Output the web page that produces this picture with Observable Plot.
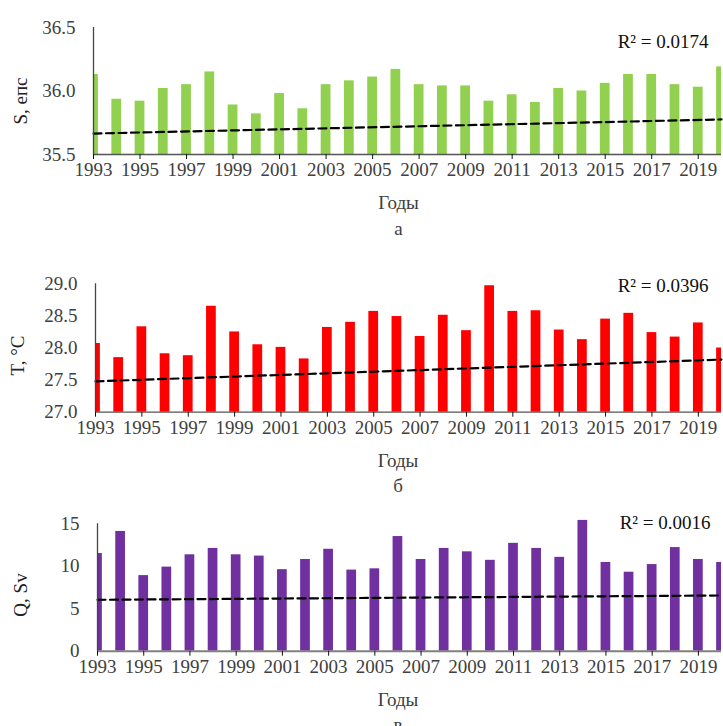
<!DOCTYPE html>
<html>
<head>
<meta charset="utf-8">
<script src="https://cdn.jsdelivr.net/npm/d3@7"></script>
<script src="https://cdn.jsdelivr.net/npm/@observablehq/plot@0.6"></script>
<style>
  body { margin: 0; background: #fff; }
  #chart { width: 723px; }
  #chart svg { display: block; overflow: visible; }
</style>
</head>
<body>
<div id="chart"></div>
<script>
// Years of observation
const years = [1993, 1994, 1995, 1996, 1997, 1998, 1999, 2000, 2001, 2002,
               2003, 2004, 2005, 2006, 2007, 2008, 2009, 2010, 2011, 2012,
               2013, 2014, 2015, 2016, 2017, 2018, 2019, 2020];
const yearTicks = [1993, 1995, 1997, 1999, 2001, 2003, 2005, 2007, 2009,
                   2011, 2013, 2015, 2017, 2019];

// а — salinity, psu
const salinity = [36.13, 35.935, 35.92, 36.02, 36.05, 36.15, 35.89, 35.82, 35.98, 35.86,
                  36.05, 36.08, 36.11, 36.17, 36.05, 36.04, 36.04, 35.92, 35.97, 35.91,
                  36.02, 36.00, 36.06, 36.13, 36.13, 36.05, 36.03, 36.19];
const salinityTrend = [35.665, 35.776];
const salinityTicks = [35.5, 36.0, 36.5];

// б — temperature, °C
const temperature = [28.07, 27.85, 28.33, 27.91, 27.88, 28.65, 28.25, 28.05, 28.01, 27.83,
                     28.32, 28.40, 28.57, 28.49, 28.18, 28.51, 28.27, 28.97, 28.57, 28.58,
                     28.28, 28.13, 28.45, 28.54, 28.24, 28.17, 28.39, 28.00];
const temperatureTrend = [27.48, 27.82];
const temperatureTicks = [27.0, 27.5, 28.0, 28.5, 29.0];

// в — transport, Sv
const transport = [11.5, 14.1, 8.9, 9.9, 11.35, 12.1, 11.35, 11.2, 9.6, 10.8,
                   12.0, 9.55, 9.7, 13.5, 10.8, 12.1, 11.7, 10.7, 12.7, 12.1,
                   11.05, 15.4, 10.45, 9.3, 10.2, 12.2, 10.8, 10.45];
const transportTrend = [6.05, 6.56];
const transportTicks = [0, 5, 10, 15];

const yTitles = ["S, епс", "T, °C", "Q, Sv"];
const r2Labels = ["R² = 0.0174", "R² = 0.0396", "R² = 0.0016"];
const panelLetters = ["а", "б", "в"];
const xTitle = "Годы";

const font = "'Liberation Serif', 'Times New Roman', serif";
const halfBar = 0.21;

function panel({values, trend, ticks, format, color, yTitle, r2, letter, layout}) {
  const data = years.map((year, i) => ({year, v: values[i]}));
  const trendData = [
    {year: years[0], v: trend[0]},
    {year: years[years.length - 1], v: trend[1]}
  ];
  const base = ticks[0];
  const top = ticks[ticks.length - 1];
  return Plot.plot({
    width: 723,
    height: layout.height,
    marginLeft: layout.left,
    marginRight: 2,
    marginTop: layout.top,
    marginBottom: layout.bottom,
    style: {fontFamily: font, fontSize: "19px", background: "#fff", color: "#222"},
    x: {domain: [years[0], years[years.length - 1]], clamp: true},
    y: {domain: [base, top]},
    marks: [
      Plot.rectY(data, {
        x1: d => d.year - halfBar,
        x2: d => d.year + halfBar,
        y1: base,
        y2: "v",
        fill: color
      }),
      Plot.line(trendData, {
        x: "year", y: "v",
        stroke: "#000", strokeWidth: 2.2, strokeDasharray: "8,4.5"
      }),
      Plot.ruleY([base], {stroke: layout.baseColor, strokeWidth: layout.baseWidth}),
      Plot.ruleX([years[0]], {stroke: "#444", strokeWidth: 1.3}),
      Plot.axisY({
        ticks, tickFormat: format, tickSize: 0, tickPadding: 18,
        fill: "#404040", fontSize: 19, label: null
      }),
      Plot.axisX({
        ticks: yearTicks, tickFormat: "d", tickSize: 5, tickPadding: 3,
        stroke: "#111", fill: "#404040", fontSize: 19, label: null
      }),
      Plot.text([yTitle], {
        text: d => d, frameAnchor: "left", rotate: -90,
        textAnchor: "middle", lineAnchor: "middle",
        dx: layout.titleDx, dy: layout.titleDy,
        fontSize: 19, fill: "#222"
      }),
      Plot.text([r2], {
        text: d => d, frameAnchor: "top-right",
        textAnchor: "end", lineAnchor: "middle",
        dx: layout.r2Dx, dy: layout.r2Dy,
        fontSize: 19, fill: "#111"
      }),
      Plot.text([xTitle], {
        text: d => d, frameAnchor: "bottom",
        textAnchor: "middle", lineAnchor: "middle",
        dx: layout.xTitleDx, dy: 48.5,
        fontSize: 19, fill: "#404040"
      }),
      Plot.text([letter], {
        text: d => d, frameAnchor: "bottom",
        textAnchor: "middle", lineAnchor: "middle",
        dx: layout.xTitleDx, dy: 74,
        fontSize: 19, fill: "#404040"
      })
    ]
  });
}

const chart = document.getElementById("chart");

chart.append(panel({
  values: salinity, trend: salinityTrend, ticks: salinityTicks, format: ".1f",
  color: "#92D050", yTitle: yTitles[0], r2: r2Labels[0], letter: panelLetters[0],
  layout: {height: 250, left: 93, top: 27, bottom: 96, baseColor: "#555", baseWidth: 1.3,
           titleDx: -73, titleDy: 10, r2Dx: -13, r2Dy: 14.5, xTitleDx: -9}
}));

chart.append(panel({
  values: temperature, trend: temperatureTrend, ticks: temperatureTicks, format: ".1f",
  color: "#FF0000", yTitle: yTitles[1], r2: r2Labels[1], letter: panelLetters[1],
  layout: {height: 250, left: 95, top: 33.3, bottom: 88.3, baseColor: "#555", baseWidth: 1.3,
           titleDx: -77.5, titleDy: 7.5, r2Dx: -13, r2Dy: 2.4, xTitleDx: -10.5}
}));

chart.append(panel({
  values: transport, trend: transportTrend, ticks: transportTicks, format: "d",
  color: "#7030A0", yTitle: yTitles[2], r2: r2Labels[2], letter: panelLetters[2],
  layout: {height: 226, left: 97, top: 23.3, bottom: 75.3, baseColor: "#808080", baseWidth: 2,
           titleDx: -77, titleDy: 7.5, r2Dx: -11, r2Dy: -0.6, xTitleDx: -11.5}
}));
</script>
</body>
</html>
